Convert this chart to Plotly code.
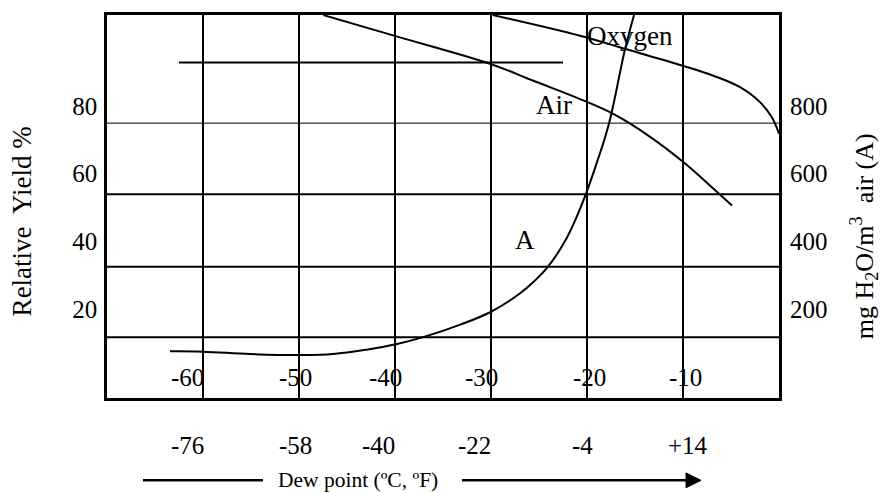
import plotly.graph_objects as go

# Dew point in degC (x) for each curve
air_x = [-47.46, -39.93, -29.97, -25.59, -20.73, -17.26, -13.5, -9.97, -7.2, -4.9]
air_yield = [106.8, 100.6, 92.3, 87.4, 82.0, 77.6, 71.0, 63.4, 56.5, 50.6]

oxygen_x = [-29.82, -20.73, -15.86, -9.97, -6.84, -4.06, -1.98, -0.76, 0.0]
oxygen_yield = [106.8, 100.7, 96.7, 91.8, 88.9, 85.5, 81.1, 76.7, 71.8]

# Water content of air (mg H2O per m3) against dew point
water_x = [-63.44, -60.0, -55.1, -49.9, -46.46, -42.95, -39.9, -37.06, -33.2, -30.0,
           -27.0, -25.5, -24.06, -22.11, -20.42, -18.85, -17.7, -16.04, -15.1]
water_mg = [75, 74, 67, 64, 67, 80, 96, 117, 154, 192,
            246, 282, 325, 410, 517, 643, 749, 967, 1068]

# 100 % reference bar
ref_x = [-62.5, -22.5]
ref_yield = [92.8, 92.8]

celsius_ticks = [-60, -50, -40, -30, -20, -10]
celsius_labels = ["-60", "-50", "-40", "-30", "-20", "-10"]
fahrenheit_labels = ["-76", "-58", "-40", "-22", "-4", "+14"]

yield_ticks = [20, 40, 60, 80]
water_ticks = [200, 400, 600, 800]

# hand-set grid levels on the yield scale and their stroke widths
grid_levels = [74.9, 53.9, 32.5, 11.7]
grid_widths = [1, 2, 2, 2]

# small horizontal nudges (px) of the dew-point labels
nudge_c = [-16, -4, -10, -10, 2, 2]
nudge_f = [-16, -4, -17, -17, -5, 5]

FONT = "Liberation Serif, Times New Roman, serif"
BLACK = "#000000"

fig = go.Figure()

line_style = dict(color=BLACK, width=2, shape="spline", smoothing=1.1)

fig.add_trace(go.Scatter(x=air_x, y=air_yield, mode="lines", line=line_style,
                         name="Air", showlegend=False))
fig.add_trace(go.Scatter(x=oxygen_x, y=oxygen_yield, mode="lines", line=line_style,
                         name="Oxygen", showlegend=False))
fig.add_trace(go.Scatter(x=ref_x, y=ref_yield, mode="lines",
                         line=dict(color=BLACK, width=2), showlegend=False))
fig.add_trace(go.Scatter(x=water_x, y=water_mg, mode="lines", line=line_style,
                         name="A", yaxis="y2", showlegend=False))

y_lo, y_hi = -6.27, 106.83

fig.update_layout(
    width=883, height=493,
    margin=dict(l=107, r=104, t=12, b=95),
    paper_bgcolor="white", plot_bgcolor="white",
    font=dict(family=FONT, size=25, color=BLACK),
    xaxis=dict(
        range=[-70, 0], tickvals=celsius_ticks, showticklabels=False, ticks="",
        showgrid=True, gridcolor=BLACK, gridwidth=2, zeroline=False,
        showline=True, linecolor=BLACK, linewidth=2.5, mirror=True,
    ),
    yaxis=dict(
        range=[y_lo, y_hi], tickvals=yield_ticks, ticks="", showgrid=False,
        zeroline=False, showline=True, linecolor=BLACK, linewidth=2.5, mirror=True,
        ticklabelstandoff=2, tickfont=dict(size=25),
    ),
    yaxis2=dict(
        range=[y_lo * 10, y_hi * 10], tickvals=water_ticks, ticks="", showgrid=False,
        zeroline=False, overlaying="y", side="right", showline=False,
        ticklabelstandoff=10, tickfont=dict(size=25),
    ),
)

for lvl, w in zip(grid_levels, grid_widths):
    fig.add_shape(type="line", xref="paper", yref="y", x0=0, x1=1, y0=lvl, y1=lvl,
                  line=dict(color=BLACK, width=w), layer="below")


def ypix(p):
    # paper-y for a pixel row measured from the top of the page
    return (398 - p) / 386


def xpix(p):
    return (p - 107) / 672


centered = dict(showarrow=False, xanchor="center", yanchor="middle")

for v, t, s in zip(celsius_ticks, celsius_labels, nudge_c):
    fig.add_annotation(x=v, y=ypix(377.5), xref="x", yref="paper", text=t,
                       xshift=s, font=dict(size=25), **centered)
for v, t, s in zip(celsius_ticks, fahrenheit_labels, nudge_f):
    fig.add_annotation(x=v, y=ypix(446), xref="x", yref="paper", text=t,
                       xshift=s, font=dict(size=25), **centered)

# curve names
fig.add_annotation(x=-15.52, y=100.6, text="Oxygen", font=dict(size=27), **centered)
fig.add_annotation(x=-23.4, y=80.4, text="Air", font=dict(size=27), **centered)
fig.add_annotation(x=-26.46, y=40.4, text="A", font=dict(size=27), **centered)

# axis titles
fig.add_annotation(x=xpix(22), y=ypix(220), xref="paper", yref="paper",
                   text="Relative&nbsp; Yield %", textangle=-90,
                   font=dict(size=27), **centered)
fig.add_annotation(x=xpix(864), y=ypix(235), xref="paper", yref="paper",
                   text="mg H<sub>2</sub>O/m<sup>3</sup>&nbsp; air (A)", textangle=-90,
                   font=dict(size=26), **centered)

# dew point caption with its arrow
fig.add_annotation(x=xpix(357.5), y=ypix(481), xref="paper", yref="paper",
                   text="Dew point (ºC, ºF)", font=dict(size=21.5), **centered)
fig.add_shape(type="line", xref="paper", yref="paper",
              x0=xpix(143), x1=xpix(263), y0=ypix(481), y1=ypix(481),
              line=dict(color=BLACK, width=2.5))
fig.add_shape(type="line", xref="paper", yref="paper",
              x0=xpix(462), x1=xpix(688), y0=ypix(481), y1=ypix(481),
              line=dict(color=BLACK, width=2.5))
fig.add_shape(type="path", xref="paper", yref="paper",
              path=(f"M {xpix(686)} {ypix(473.5)} L {xpix(701)} {ypix(481)} "
                    f"L {xpix(686)} {ypix(488.5)} Z"),
              fillcolor=BLACK, line=dict(color=BLACK, width=1))

fig.write_html("out.html")
